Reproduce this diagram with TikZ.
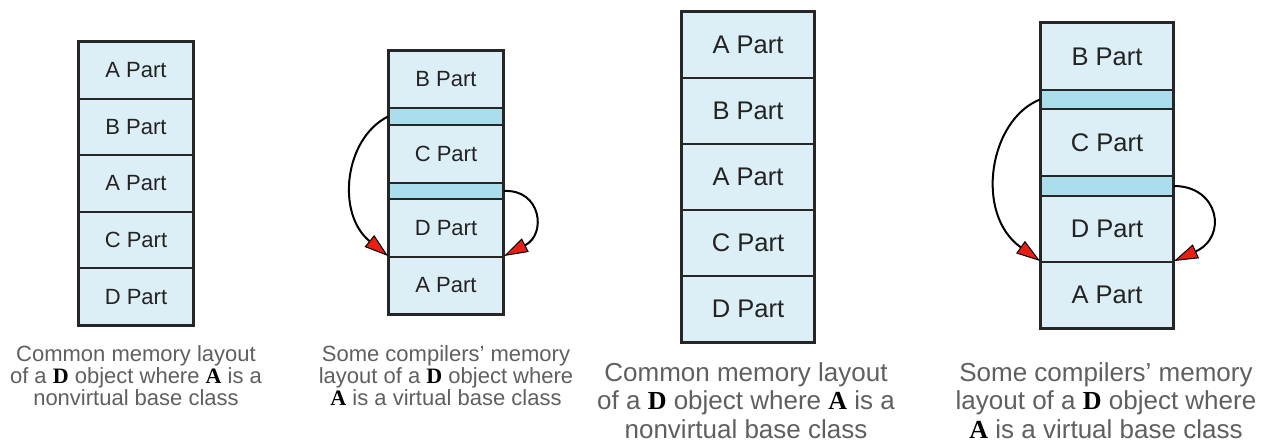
\documentclass[tikz,border=0pt]{standalone}
\usepackage{fontspec}
\setmainfont{Liberation Sans}
\newfontfamily\codefont{Liberation Serif}
\usepackage{xcolor}
\definecolor{cellblue}{RGB}{220,238,246}
\definecolor{vptrblue}{RGB}{170,222,236}
\definecolor{captgray}{RGB}{95,95,95}
\definecolor{partgray}{RGB}{35,35,35}
\definecolor{tipred}{RGB}{232,32,20}
\usetikzlibrary{arrows.meta}

\newcommand{\cname}[1]{{\codefont\bfseries\color{black}#1}}

\begin{document}
\begin{tikzpicture}[x=1pt, y=-1pt,
  part/.style={rectangle, draw=black!85, line width=1.9pt, fill=cellblue,
               text=partgray, inner sep=0pt},
  narrowcol/.style={part, minimum width=114pt,
                    font=\fontsize{22}{22}\selectfont},
  widecol/.style={part, minimum width=132pt,
                  font=\fontsize{25.5}{26}\selectfont},
  vptr/.style={fill=vptrblue},
  frame/.style={draw=black!85, line width=2.6pt},
  smallcap/.style={align=center, text=captgray, inner sep=0pt, anchor=north,
                   font=\fontsize{22}{22}\selectfont},
  bigcap/.style={align=center, text=captgray, inner sep=0pt, anchor=north,
                 font=\fontsize{26}{28.5}\selectfont},
  offset/.style={draw=black, line width=2pt,
                 -{Triangle[length=24pt, width=15pt, line width=1pt, fill=tipred]}},
]
\useasboundingbox (0,0) rectangle (1263,444);

%% --- 1: nonvirtual, small ---
\node[narrowcol, minimum height=56.6pt] (c11) at (136, 70.3)  {A Part};
\node[narrowcol, minimum height=56.6pt] (c12) at (136, 126.9) {B Part};
\node[narrowcol, minimum height=56.6pt] (c13) at (136, 183.5) {A Part};
\node[narrowcol, minimum height=56.6pt] (c14) at (136, 240.1) {C Part};
\node[narrowcol, minimum height=56.6pt] (c15) at (136, 296.7) {D Part};
\draw[frame] (c11.north west) rectangle (c15.south east);

%% --- 2: virtual, small ---
\node[narrowcol, minimum height=57pt] (c21) at (446, 79.5)  {B Part};
\node[narrowcol, vptr, minimum height=17pt] (c22) at (446, 116.5) {};
\node[narrowcol, minimum height=58pt] (c23) at (446, 154)   {C Part};
\node[narrowcol, vptr, minimum height=16pt] (c24) at (446, 191) {};
\node[narrowcol, minimum height=58pt] (c25) at (446, 228)   {D Part};
\node[narrowcol, minimum height=57pt] (c26) at (446, 285.5) {A Part};
\draw[frame] (c21.north west) rectangle (c26.south east);

\draw[offset] (c22.west) .. controls +(-44,22) and +(-52,-42) .. (c26.north west);
\draw[offset] (c24.east) .. controls +(37,-2) and +(43,-22) .. (c26.north east);

%% --- 3: nonvirtual, large ---
\node[widecol, minimum height=66pt] (c31) at (748, 45)  {A Part};
\node[widecol, minimum height=66pt] (c32) at (748, 111) {B Part};
\node[widecol, minimum height=66pt] (c33) at (748, 177) {A Part};
\node[widecol, minimum height=66pt] (c34) at (748, 243) {C Part};
\node[widecol, minimum height=66pt] (c35) at (748, 309) {D Part};
\draw[frame] (c31.north west) rectangle (c35.south east);

%% --- 4: virtual, large ---
\node[widecol, minimum height=67pt] (c41) at (1107, 56.5)  {B Part};
\node[widecol, vptr, minimum height=19pt] (c42) at (1107, 99.5) {};
\node[widecol, minimum height=67pt] (c43) at (1107, 142.5) {C Part};
\node[widecol, vptr, minimum height=20pt] (c44) at (1107, 186) {};
\node[widecol, minimum height=66pt] (c45) at (1107, 229)   {D Part};
\node[widecol, minimum height=66pt] (c46) at (1107, 295)   {A Part};
\draw[frame] (c41.north west) rectangle (c46.south east);

\draw[offset] (c42.west) .. controls +(-51,20) and +(-66,-47) .. (c46.north west);
\draw[offset] (c44.east) .. controls +(45,0) and +(54,-24) .. (c46.north east);

%% --- legendes ---
\node[smallcap] (t1) at (136, 345)
  {Common memory layout\\of a \cname{D} object where \cname{A} is a\\nonvirtual base class};
\node[smallcap] (t2) at (446, 345)
  {Some compilers’ memory\\layout of a \cname{D} object where\\\cname{A} is a virtual base class};
\node[bigcap] (t3) at (746, 362)
  {Common memory layout\\of a \cname{D} object where \cname{A} is a\\nonvirtual base class};
\node[bigcap] (t4) at (1106, 362)
  {Some compilers’ memory\\layout of a \cname{D} object where\\\cname{A} is a virtual base class};
\end{tikzpicture}
\end{document}
